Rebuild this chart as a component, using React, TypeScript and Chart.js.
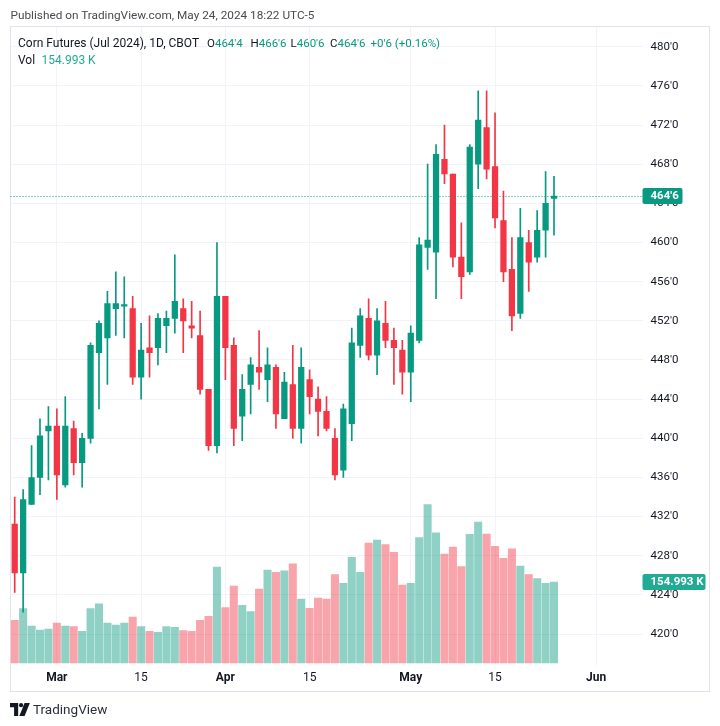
import React, { useEffect, useRef } from "react";
import { Chart, registerables } from "chart.js";

Chart.register(...registerables);

// ---------- DATA ----------
const dates = [
  "2024-02-23", "2024-02-26", "2024-02-27", "2024-02-28", "2024-02-29",
  "2024-03-01", "2024-03-04", "2024-03-05", "2024-03-06", "2024-03-07", "2024-03-08",
  "2024-03-11", "2024-03-12", "2024-03-13", "2024-03-14", "2024-03-15",
  "2024-03-18", "2024-03-19", "2024-03-20", "2024-03-21", "2024-03-22",
  "2024-03-25", "2024-03-26", "2024-03-27", "2024-03-28",
  "2024-04-01", "2024-04-02", "2024-04-03", "2024-04-04", "2024-04-05",
  "2024-04-08", "2024-04-09", "2024-04-10", "2024-04-11", "2024-04-12",
  "2024-04-15", "2024-04-16", "2024-04-17", "2024-04-18", "2024-04-19",
  "2024-04-22", "2024-04-23", "2024-04-24", "2024-04-25", "2024-04-26",
  "2024-04-29", "2024-04-30",
  "2024-05-01", "2024-05-02", "2024-05-03",
  "2024-05-06", "2024-05-07", "2024-05-08", "2024-05-09", "2024-05-10",
  "2024-05-13", "2024-05-14", "2024-05-15", "2024-05-16", "2024-05-17",
  "2024-05-20", "2024-05-21", "2024-05-22", "2024-05-23", "2024-05-24",
  // future (empty) sessions
  "2024-05-28", "2024-05-29", "2024-05-30", "2024-05-31",
  "2024-06-03", "2024-06-04", "2024-06-05", "2024-06-06", "2024-06-07", "2024-06-10",
];

const opens = [
  431.25, 426.25, 433.25, 436, 440.75, 441.25, 435.25, 441, 437.5, 440, 448.75,
  450.25, 453.25, 453.5, 453.25, 446.25, 449.25, 449.25, 451.5, 452.25, 453.25,
  451.5, 450.5, 445, 439.25, 454.5, 449.5, 442.25, 445.5, 447.25, 446, 447.25,
  442, 445.5, 441, 446, 444, 442.75, 440, 436.75, 441.5, 449.5, 452.25, 448.5,
  451.75, 450, 449, 446.75, 450, 459.5, 459, 468.5, 467, 458.5, 457, 468,
  471.75, 467.75, 462.25, 457.25, 452.75, 460, 458.5, 461.25, 464.5,
];
const highs = [
  434, 434.75, 439.25, 442, 443.25, 443, 444.25, 441.75, 440.5, 449.75, 452,
  455, 457, 456.5, 454.5, 451.75, 452.5, 452.75, 453, 458.75, 454.25,
  454, 453, 445, 460, 454.5, 450.25, 446.5, 448.25, 451, 449.25, 447.5,
  446.75, 449.5, 449.25, 447, 445.25, 444.25, 441, 443.5, 451.25, 453.25, 454.25, 453.25,
  454, 451.25, 450, 451.5, 460.5, 468, 470, 472, 467, 462, 470, 475.5,
  475.5, 473.25, 465.25, 460.5, 463.5, 461.25, 463.25, 467.25, 466.75,
];
const lows = [
  424.25, 422.25, 433.25, 434.25, 435.75, 433.75, 435, 436.25, 435, 439.5, 443,
  445.5, 450.5, 450.25, 445.5, 444, 446.25, 447.5, 448.75, 450.75, 448.75,
  450.25, 444.5, 438.75, 438.5, 446, 439.25, 439.75, 442.5, 445, 443.75, 441,
  442, 440, 439.5, 442.5, 440.25, 440.75, 435.75, 436, 439.75, 448.25, 448, 446.5,
  449.25, 445.5, 444.5, 443.75, 449.75, 457.25, 454.25, 466, 457.5, 454.25, 456.75, 465.5,
  466.5, 461.5, 456, 451, 452.25, 455, 458, 458.5, 460.75,
];
const closes = [
  426.25, 433.75, 436, 440.25, 441.25, 436.25, 441.25, 437.5, 440, 449.5, 451.75,
  453.75, 453.75, 453.5, 446.25, 449, 448.75, 452.25, 452.25, 454, 452,
  451.25, 445, 439.25, 454.5, 449.25, 441, 445, 447.5, 446.75, 447.5, 442.5,
  445.75, 441, 447.25, 444.25, 442.75, 441, 436.25, 443, 449.75, 452.5, 448.5, 452,
  450, 449.25, 446.75, 450.75, 459.75, 460.25, 469, 467, 458.5, 456.5, 469.75, 472.5,
  467.5, 462.5, 457, 452.5, 460.5, 458, 461.25, 464, 464.75,
];
// volume in thousands of contracts
const volumes = [
  81.7, 104, 70.8, 63, 65, 76.5, 70.8, 69.5, 60.6, 104, 113,
  76.5, 72.7, 76.5, 88, 69.5, 60.6, 58.7, 69.5, 68.3, 61.9,
  60.6, 81.7, 89.3, 183.7, 105.9, 147.3, 110.4, 98.2, 141.6, 178, 173.5,
  176.6, 190, 122.5, 104.6, 124.4, 122.5, 169, 152.5, 202.2, 173.5, 229.6, 235.4,
  226.4, 211.8, 149.3, 152.5, 239.8, 302.9, 249.3, 208.6, 222, 184.3, 246.3, 269.8,
  246.8, 223.3, 200.3, 218.7, 185.6, 169, 161.3, 152.5, 154.993,
];

const timeTickDates = ["2024-03-01", "2024-03-15", "2024-04-01", "2024-04-15", "2024-05-01", "2024-05-15", "2024-06-03"];
const timeTickLabels = ["Mar", "15", "Apr", "15", "May", "15", "Jun"];
const priceTicks = [420, 424, 428, 432, 436, 440, 444, 448, 452, 456, 460, 464, 468, 472, 476, 480];

const title = "Published on TradingView.com, May 24, 2024 18:22 UTC-5";
const symbolText = "Corn Futures (Jul 2024), 1D, CBOT";
const ohlcLabels = ["O", "H", "L", "C"];
const ohlcValues = ["464'4", "466'6", "460'6", "464'6"];
const changeText = "+0'6 (+0.16%)";
const volText = "154.993 K";

// ---------- STYLE ----------
const UP = "#089981";
const DOWN = "#F23645";
const UP_VOL = "rgba(8,153,129,0.45)";
const DOWN_VOL = "rgba(242,54,69,0.45)";
const GRID = "#f0f3fa";
const TEXT = "#131722";
const FONT = "Roboto, 'Noto Sans', sans-serif";

function fmtPrice(v: number): string {
  const whole = Math.floor(v + 1e-9);
  const eighths = Math.round((v - whole) * 8);
  return `${whole}'${eighths}`;
}

const lastClose = closes[closes.length - 1];
const lastVol = volumes[volumes.length - 1];

const overlayPlugin = {
  id: "tvOverlay",
  afterDatasetsDraw(chart: any) {
    const { ctx, chartArea, scales } = chart;
    const y = Math.round(scales.y.getPixelForValue(lastClose)) + 0.5;
    ctx.save();
    ctx.strokeStyle = UP;
    ctx.lineWidth = 1;
    ctx.setLineDash([1, 2]);
    ctx.beginPath();
    ctx.moveTo(chartArea.left, y);
    ctx.lineTo(chartArea.right, y);
    ctx.stroke();
    ctx.restore();
  },
  afterDraw(chart: any) {
    const { ctx, chartArea, scales } = chart;
    const drawBox = (cy: number, text: string, color: string, w: number) => {
      const h = 16;
      const x = chartArea.right;
      ctx.save();
      ctx.fillStyle = color;
      ctx.beginPath();
      ctx.roundRect(x, Math.round(cy - h / 2), w, h, 2);
      ctx.fill();
      ctx.fillStyle = "#ffffff";
      ctx.font = `bold 11.5px ${FONT}`;
      ctx.textAlign = "left";
      ctx.textBaseline = "middle";
      ctx.fillText(text, x + 8, cy + 0.5);
      ctx.restore();
    };
    drawBox(scales.y.getPixelForValue(lastClose), fmtPrice(lastClose), UP, 40);
    drawBox(scales.yVol.getPixelForValue(lastVol), volText, "#22ab94", 63);
  },
};

export default function App() {
  const ref = useRef<HTMLCanvasElement | null>(null);

  useEffect(() => {
    if (!ref.current) return;
    const candleColors = closes.map((c, i) => (c >= opens[i] ? UP : DOWN));
    const volColors = closes.map((c, i) => (c >= opens[i] ? UP_VOL : DOWN_VOL));
    const tickIndex = new Map<number, string>();
    timeTickDates.forEach((d, k) => tickIndex.set(dates.indexOf(d), timeTickLabels[k]));

    const chart = new Chart(ref.current, {
      type: "bar",
      data: {
        labels: dates,
        datasets: [
          {
            label: "body",
            data: opens.map((o, i) => [Math.min(o, closes[i]), Math.max(o, closes[i])]) as any,
            backgroundColor: candleColors,
            barThickness: 5.6,
            minBarLength: 1.5,
            grouped: false,
            order: 1,
            yAxisID: "y",
            borderWidth: 0,
          },
          {
            label: "wick",
            data: lows.map((l, i) => [l, highs[i]]) as any,
            backgroundColor: candleColors,
            barThickness: 1,
            grouped: false,
            order: 2,
            yAxisID: "y",
            borderWidth: 0,
          },
          {
            label: "volume",
            data: volumes,
            backgroundColor: volColors,
            barThickness: 7.4,
            grouped: false,
            order: 3,
            yAxisID: "yVol",
            borderWidth: 0,
          },
        ],
      },
      options: {
        animation: false,
        responsive: false,
        maintainAspectRatio: false,
        layout: { padding: { left: 10.5, right: 11, top: 27, bottom: 34 } },
        plugins: { legend: { display: false }, tooltip: { enabled: false } },
        scales: {
          x: {
            type: "category",
            offset: true,
            border: { display: false },
            grid: {
              offset: false,
              drawTicks: false,
              color: (c: any) => (tickIndex.has(c.index) ? GRID : "rgba(0,0,0,0)"),
            },
            ticks: {
              autoSkip: false,
              maxRotation: 0,
              minRotation: 0,
              padding: 6,
              color: TEXT,
              font: (c: any) => ({
                family: FONT,
                size: 12,
                weight: /[A-Za-z]/.test(tickIndex.get(c.index) || "") ? "bold" : "normal",
              }),
              callback: (_v: any, i: number) => tickIndex.get(i) || "",
            },
            afterFit: (s: any) => {
              s.height = 27;
            },
          },
          y: {
            type: "linear",
            position: "right",
            min: 416.844,
            max: 482.012,
            border: { display: false },
            grid: { color: GRID, drawTicks: false },
            afterBuildTicks: (s: any) => {
              s.ticks = priceTicks.map((v) => ({ value: v }));
            },
            ticks: {
              padding: 8,
              color: TEXT,
              font: { family: FONT, size: 11.5 },
              callback: (v: any) => fmtPrice(Number(v)),
            },
            afterFit: (s: any) => {
              s.width = 66.5;
            },
          },
          yVol: {
            type: "linear",
            display: false,
            min: -3.83,
            max: 1217,
          },
        },
      },
      plugins: [overlayPlugin],
    });
    return () => chart.destroy();
  }, []);

  const label = (left: number, top: number, text: string, color: string, extra: any = {}) => (
    <div
      style={{
        position: "absolute",
        left,
        top,
        color,
        fontSize: 12,
        lineHeight: "16px",
        whiteSpace: "nowrap",
        ...extra,
      }}
    >
      {text}
    </div>
  );

  const ohlcLefts = [207, 250.5, 290.5, 330];

  return (
    <div
      style={{
        position: "fixed",
        left: 0,
        top: 0,
        width: 720,
        height: 726,
        background: "#ffffff",
        fontFamily: FONT,
        overflow: "hidden",
      }}
    >
      <div
        style={{
          position: "absolute",
          left: 10,
          top: 26,
          width: 700,
          height: 666,
          border: "1px solid #e0e3eb",
          boxSizing: "border-box",
        }}
      />
      <canvas
        ref={ref}
        width={720}
        height={726}
        style={{ position: "absolute", left: 0, top: 0, width: 720, height: 726 }}
      />
      {label(10.5, 7, title, "#4a4a4a", { fontSize: 11.8 })}
      {label(18, 35, symbolText, TEXT)}
      {ohlcLabels.map((l, k) => (
        <div
          key={l}
          style={{ position: "absolute", left: ohlcLefts[k], top: 35, fontSize: 11.5, lineHeight: "16px", whiteSpace: "nowrap" }}
        >
          <span style={{ color: TEXT }}>{l}</span>
          <span style={{ color: UP }}>{ohlcValues[k]}</span>
        </div>
      ))}
      {label(370.5, 35, changeText, UP, { fontSize: 11.5 })}
      {label(18, 52, "Vol", TEXT)}
      {label(41.5, 52, volText, "#22ab94")}
      <svg
        style={{ position: "absolute", left: 10, top: 703 }}
        width={21}
        height={13}
        viewBox="0 0 36 22"
      >
        <path d="M0 0 H14 V22 H7 V7 H0 Z" fill={TEXT} />
        <circle cx="19" cy="3.6" r="3.6" fill={TEXT} />
        <path d="M16 22 L25 0 H34 L25 22 Z" fill={TEXT} />
      </svg>
      {label(33, 700, "TradingView", "#2a2e39", { fontSize: 13.5, lineHeight: "18px" })}
    </div>
  );
}
